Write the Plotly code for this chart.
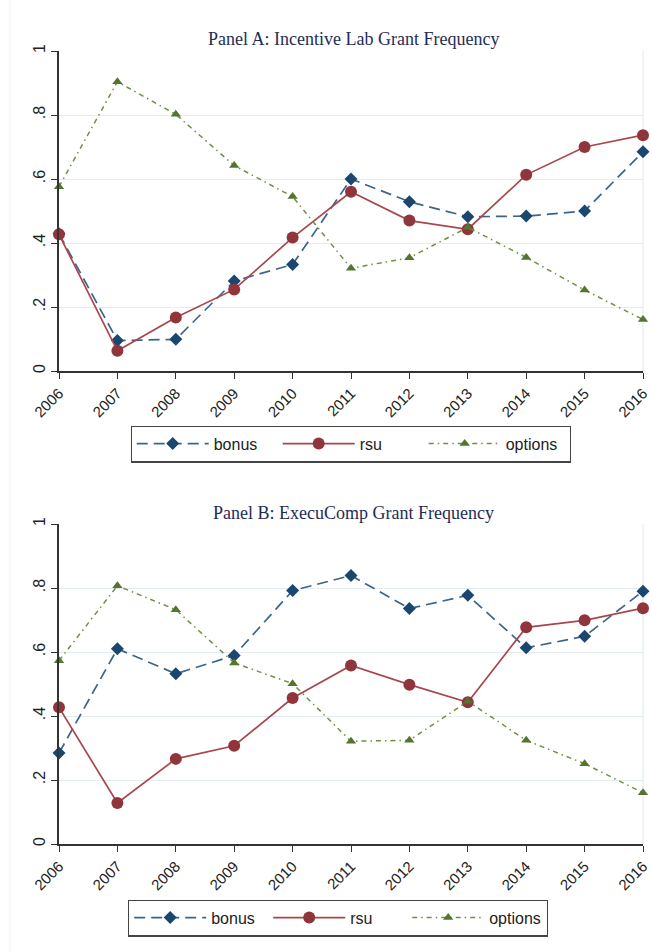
import plotly.graph_objects as go

years = [2006, 2007, 2008, 2009, 2010, 2011, 2012, 2013, 2014, 2015, 2016]

# Panel A: Incentive Lab
a_bonus = [0.429, 0.095, 0.099, 0.281, 0.333, 0.600, 0.529, 0.482, 0.484, 0.500, 0.685]
a_rsu = [0.427, 0.063, 0.167, 0.255, 0.417, 0.560, 0.470, 0.443, 0.613, 0.700, 0.737]
a_options = [0.576, 0.904, 0.802, 0.642, 0.545, 0.321, 0.354, 0.449, 0.355, 0.253, 0.161]

# Panel B: ExecuComp
b_bonus = [0.284, 0.610, 0.532, 0.589, 0.792, 0.839, 0.736, 0.777, 0.613, 0.649, 0.790]
b_rsu = [0.427, 0.128, 0.266, 0.307, 0.456, 0.558, 0.498, 0.443, 0.677, 0.699, 0.737]
b_options = [0.573, 0.807, 0.732, 0.566, 0.501, 0.321, 0.324, 0.446, 0.324, 0.251, 0.160]

titles = ["Panel A: Incentive Lab Grant Frequency", "Panel B: ExecuComp Grant Frequency"]
series_names = ["bonus", "rsu", "options"]
y_ticks = [0, 0.2, 0.4, 0.6, 0.8, 1.0]
y_ticktext = ["0", ".2", ".4", ".6", ".8", "1"]

W, H = 652, 952
NAVY = "#1a476f"
MAROON = "#90353b"
GREEN = "#55752f"
LINE_NAVY = "#3d6489"
LINE_MAROON = "#a8474d"
LINE_GREEN = "#6f8f45"

def py(p):
    return 1 - p / H

def px(p):
    return p / W

fig = go.Figure()

panels = [
    (a_bonus, a_rsu, a_options, "x", "y", "legend"),
    (b_bonus, b_rsu, b_options, "x2", "y2", "legend2"),
]

for bonus, rsu, options, xa, ya, lg in panels:
    fig.add_trace(go.Scatter(
        x=years, y=bonus, name=series_names[0], mode="lines+markers", xaxis=xa, yaxis=ya, legend=lg,
        line=dict(color=LINE_NAVY, width=1.7, dash="11px,6px"),
        marker=dict(symbol="diamond", size=10, color=NAVY),
        cliponaxis=False,
    ))
    fig.add_trace(go.Scatter(
        x=years, y=rsu, name=series_names[1], mode="lines+markers", xaxis=xa, yaxis=ya, legend=lg,
        line=dict(color=LINE_MAROON, width=1.7, dash="solid"),
        marker=dict(symbol="circle", size=12, color=MAROON),
        cliponaxis=False,
    ))
    fig.add_trace(go.Scatter(
        x=years, y=options, name=series_names[2], mode="lines+markers", xaxis=xa, yaxis=ya, legend=lg,
        line=dict(color=LINE_GREEN, width=1.5, dash="5px,4px,1.5px,4px"),
        marker=dict(symbol="triangle-up", size=9, color=GREEN),
        cliponaxis=False,
    ))

xdom = [px(59), px(643)]
ydomA = [py(371), py(51)]
ydomB = [py(844), py(524)]

tickfont = dict(family="Liberation Sans, Arial, sans-serif", size=15, color="#222")

def xaxis_cfg(anchor):
    return dict(
        domain=xdom, anchor=anchor, range=[2006, 2016], automargin=False,
        tickmode="array", tickvals=years, ticktext=[str(y) for y in years],
        tickangle=-45, ticks="outside", ticklen=6, tickwidth=1.2, tickcolor="#333",
        showline=True, linecolor="#333", linewidth=1.5,
        showgrid=False, zeroline=False, tickfont=tickfont, fixedrange=True,
    )

def yaxis_cfg(anchor, dom):
    return dict(
        domain=dom, anchor=anchor, range=[0, 1], automargin=False,
        tickmode="array", tickvals=y_ticks, ticktext=y_ticktext,
        tickangle=-90, ticks="outside", ticklen=6, tickwidth=1.2, tickcolor="#333",
        showline=True, linecolor="#333", linewidth=1.5,
        showgrid=True, gridcolor="#e3ecf1", gridwidth=1.2, zeroline=False,
        tickfont=dict(family="Liberation Sans, Arial, sans-serif", size=16, color="#222"),
        fixedrange=True,
    )

legend_common = dict(
    orientation="h", xanchor="center", yanchor="middle",
    bordercolor="#444", borderwidth=1.2, bgcolor="white",
    font=dict(family="Liberation Sans, Arial, sans-serif", size=16, color="#222"),
    entrywidthmode="pixels", itemwidth=72,
    tracegroupgap=0,
)

fig.update_layout(
    template="none",
    width=W, height=H,
    margin=dict(l=0, r=0, t=0, b=0),
    paper_bgcolor="white", plot_bgcolor="white",
    xaxis=xaxis_cfg("y"),
    yaxis=yaxis_cfg("x", ydomA),
    xaxis2=xaxis_cfg("y2"),
    yaxis2=yaxis_cfg("x2", ydomB),
    legend=dict(x=px(351), y=py(444), entrywidth=59, **legend_common),
    legend2=dict(x=px(338), y=py(918), entrywidth=52, **legend_common),
    showlegend=True,
)

title_font = dict(family="Liberation Serif, Times New Roman, serif", size=18, color="#1f2d55")
fig.add_annotation(text=titles[0], x=px(353), y=py(39), xref="paper", yref="paper",
                   showarrow=False, font=title_font, xanchor="center", yanchor="middle")
fig.add_annotation(text=titles[1], x=px(353), y=py(513), xref="paper", yref="paper",
                   showarrow=False, font=title_font, xanchor="center", yanchor="middle")

# right-side light frame of each plot region
for xr, yr in [("x domain", "y domain"), ("x2 domain", "y2 domain")]:
    fig.add_shape(type="line", xref=xr, yref=yr, x0=1, x1=1, y0=0, y1=1,
                  line=dict(color="#e3ecf1", width=1.2), layer="below")

# faint outer graph-region edge on the left
fig.add_shape(type="line", xref="paper", yref="paper", x0=px(10), x1=px(10), y0=0, y1=1,
              line=dict(color="#eef3f5", width=1))

fig.write_html("out.html")
